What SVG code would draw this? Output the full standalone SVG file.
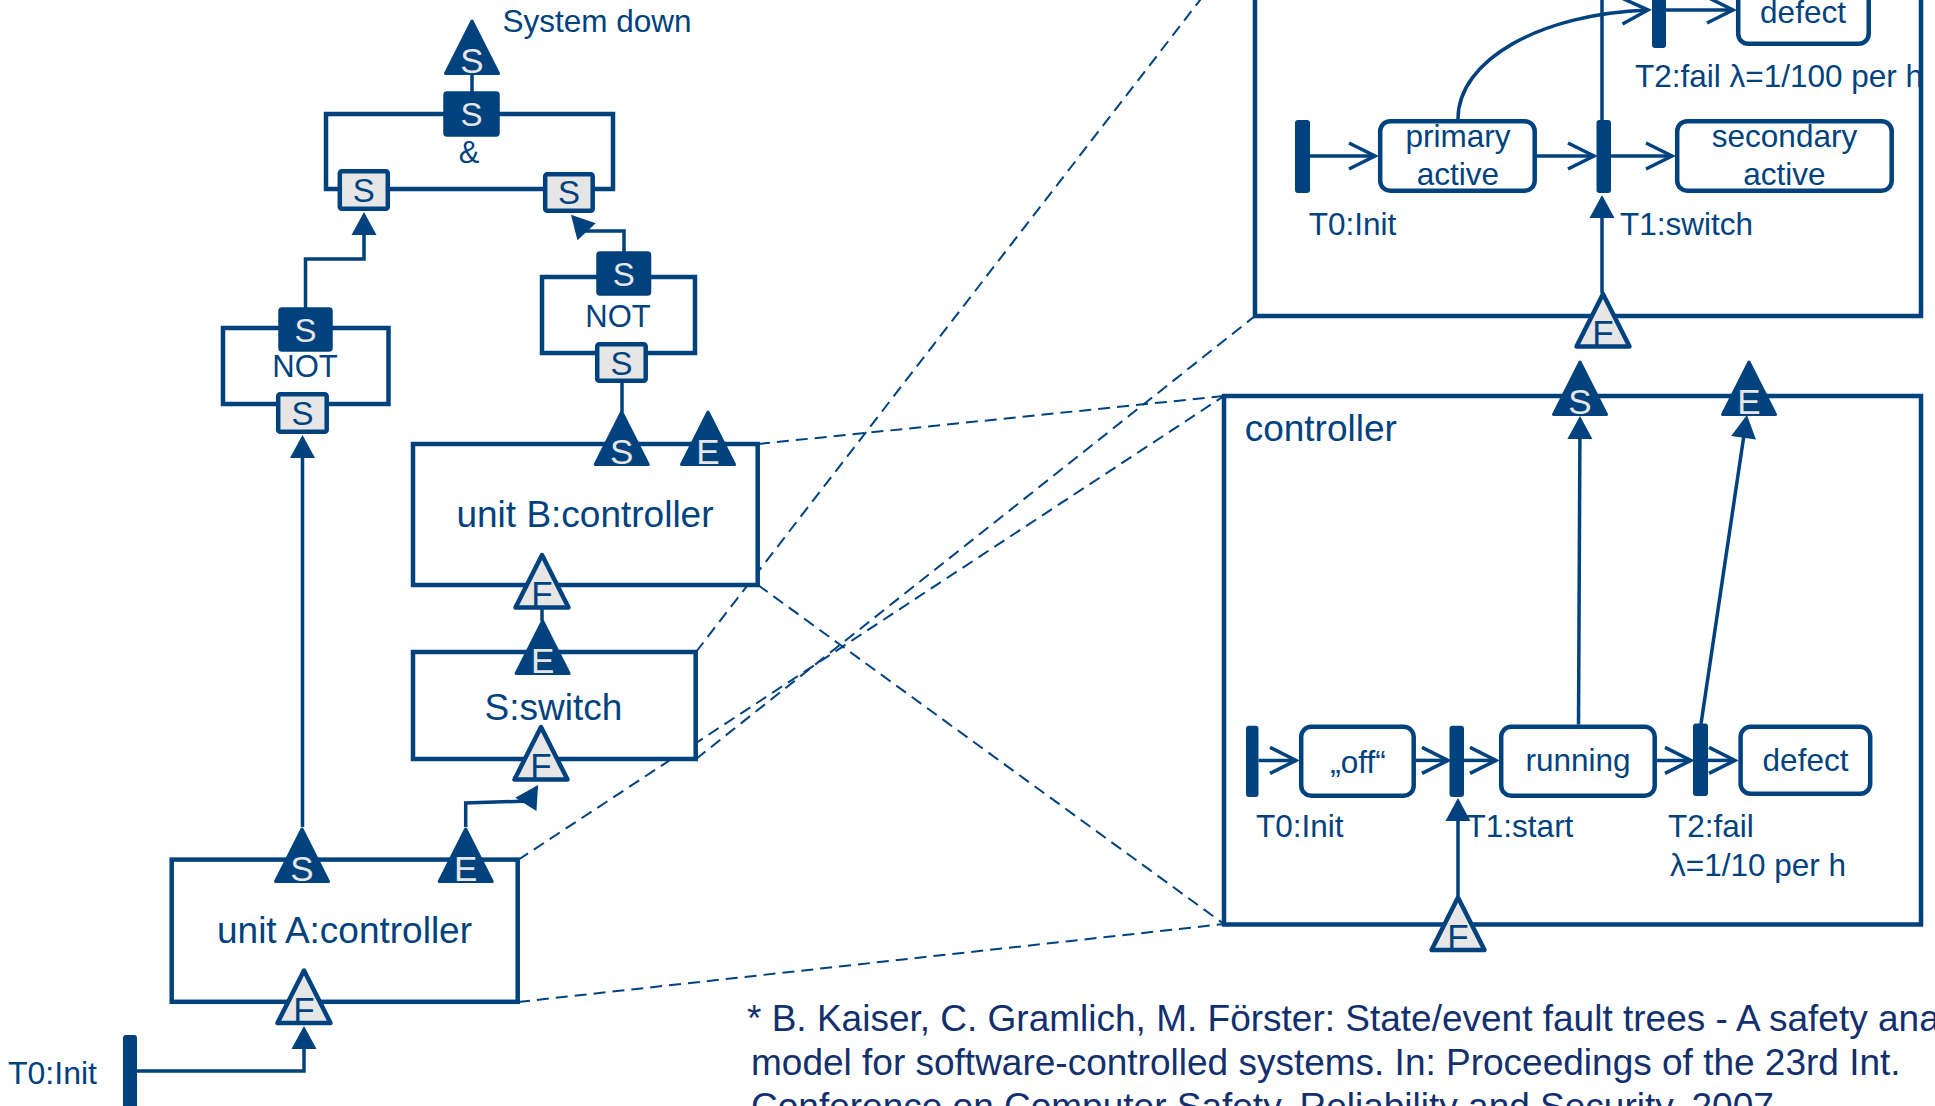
<svg xmlns="http://www.w3.org/2000/svg" width="1935" height="1106" viewBox="0 0 1935 1106">
<style>
.ol{fill:none;stroke:#00427e;stroke-width:4.5}
.box{fill:#fff;stroke:#00427e;stroke-width:4.5}
.st{fill:#fff;stroke:#00427e;stroke-width:4.5}
.sd{fill:#00427e;stroke:#00427e;stroke-width:1.5;stroke-linejoin:round}
.sl{fill:#e6e6e6;stroke:#00427e;stroke-width:4.5}
.td{fill:#00427e;stroke:#00427e;stroke-width:3;stroke-linejoin:round}
.tl{fill:#e6e6e6;stroke:#00427e;stroke-width:4.5;stroke-linejoin:round}
.bar{fill:#00427e}
.ln{fill:none;stroke:#00427e;stroke-width:3.5}
.dash{fill:none;stroke:#00427e;stroke-width:2;stroke-dasharray:12 7}
text{font-family:"Liberation Sans",Arial,sans-serif;fill:#00427e}
.c{text-anchor:middle}
.lt{fill:#e6e6e6}
.pt{font-size:35px}
.gs{font-size:33px}
.gt{font-size:31px}
.big{font-size:37px}
.lab{font-size:31.5px}
.fn{font-size:37px;fill:#12306e}
</style>
<defs>
<path id="tri" d="M0,-54 L-26.5,-1.5 L26.5,-1.5 Z"/>
<marker id="ah" markerUnits="userSpaceOnUse" viewBox="-22 -14 27 28" markerWidth="27" markerHeight="28" refX="0" refY="0" orient="auto">
<path d="M3,0 L-20,-12.5 L-20,12.5 Z" fill="#00427e"/>
</marker>
<marker id="oa" markerUnits="userSpaceOnUse" viewBox="-30 -16 37 32" markerWidth="37" markerHeight="32" refX="0" refY="0" orient="auto">
<path d="M-26,-13 L0,0 L-26,13" fill="none" stroke="#00427e" stroke-width="3.5"/>
</marker>
</defs>

<g id="zoom-lines">
<line class="dash" x1="696" y1="652" x2="1255" y2="-71"/>
<line class="dash" x1="696" y1="759" x2="1255" y2="316"/>
<line class="dash" x1="758" y1="444" x2="1224" y2="396"/>
<line class="dash" x1="758" y1="585" x2="1224" y2="924"/>
<line class="dash" x1="518" y1="860" x2="1224" y2="396"/>
<line class="dash" x1="518" y1="1002" x2="1224" y2="924"/>
</g>

<g id="and-gate">
<rect class="ol" x="326" y="114" width="287" height="75"/>
<text class="c gt" x="469" y="163">&amp;</text>
</g>
<g id="not-left">
<rect class="ol" x="223" y="328" width="165.5" height="76"/>
<text class="c gt" x="305" y="377">NOT</text>
</g>
<g id="not-right">
<rect class="ol" x="542" y="277" width="153" height="76"/>
<text class="c gt" x="618" y="327">NOT</text>
</g>
<g id="unitB">
<rect class="box" x="413" y="444" width="344.7" height="141"/>
<text class="c big" x="585" y="527">unit B:controller</text>
</g>
<g id="switch">
<rect class="box" x="413" y="652" width="282.7" height="107"/>
<text class="c big" x="553.5" y="720">S:switch</text>
</g>
<g id="unitA">
<rect class="box" x="171.7" y="859.6" width="346" height="142.2"/>
<text class="c big" x="344.5" y="943">unit A:controller</text>
</g>
<g id="switch-detail">
<rect class="box" x="1255" y="-71" width="666" height="387"/>
</g>
<g id="controller-detail">
<rect class="box" x="1224" y="396" width="697" height="528.5"/>
<text class="big" x="1244.7" y="441">controller</text>
</g>

<g id="connectors">
<path class="ln" d="M472,75 V92"/>
<path class="ln" d="M305.5,308 V259 H364 V215" marker-end="url(#ah)"/>
<path class="ln" d="M624,252 V231 H586 L573,217" marker-end="url(#ah)"/>
<path class="ln" d="M622,383 V412"/>
<path class="ln" d="M542,607 V621"/>
<path class="ln" d="M302.5,827 V438" marker-end="url(#ah)"/>
<path class="ln" d="M465.7,827 V803 L528,801 L536.5,787.5" marker-end="url(#ah)"/>
<path class="ln" d="M137,1071 H304 V1029" marker-end="url(#ah)"/>
<path class="ln" d="M1310,156 H1375" marker-end="url(#oa)"/>
<path class="ln" d="M1537,156 H1594" marker-end="url(#oa)"/>
<path class="ln" d="M1611,156 H1672" marker-end="url(#oa)"/>
<path class="ln" d="M1458,119 C1458,60 1540,14 1648,10" marker-end="url(#oa)"/>
<path class="ln" d="M1666,10 H1733" marker-end="url(#oa)"/>
<path class="ln" d="M1602,293 V198" marker-end="url(#ah)"/>
<path class="ln" d="M1602,120 V-10"/>
<path class="ln" d="M1258.5,760.4 H1296" marker-end="url(#oa)"/>
<path class="ln" d="M1416,760.4 H1448" marker-end="url(#oa)"/>
<path class="ln" d="M1464,760.4 H1496" marker-end="url(#oa)"/>
<path class="ln" d="M1657,760.4 H1691" marker-end="url(#oa)"/>
<path class="ln" d="M1708,760.4 H1735" marker-end="url(#oa)"/>
<path class="ln" d="M1458,898 V801" marker-end="url(#ah)"/>
<path class="ln" d="M1578.5,724.6 L1580,419" marker-end="url(#ah)"/>
<path class="ln" d="M1701,724 L1746.5,418" marker-end="url(#ah)"/>
</g>

<g id="and-out"><rect class="sd" x="444" y="92" width="55" height="44" rx="3"/><text class="c gs lt" x="471.5" y="126">S</text></g>
<g id="and-in1"><rect class="sl" x="339.8" y="171.2" width="48" height="37.5" rx="2"/><text class="c gs" x="363.8" y="202">S</text></g>
<g id="and-in2"><rect class="sl" x="545.2" y="174.2" width="47.5" height="36.5" rx="2"/><text class="c gs" x="569" y="204">S</text></g>
<g id="notL-out"><rect class="sd" x="279" y="308" width="53" height="43" rx="3"/><text class="c gs lt" x="305.5" y="341.5">S</text></g>
<g id="notL-in"><rect class="sl" x="278.2" y="394.2" width="48.5" height="37.5" rx="2"/><text class="c gs" x="302.5" y="425">S</text></g>
<g id="notR-out"><rect class="sd" x="597" y="252" width="53.5" height="43" rx="3"/><text class="c gs lt" x="623.7" y="285.5">S</text></g>
<g id="notR-in"><rect class="sl" x="597.2" y="344.2" width="48.5" height="36.5" rx="2"/><text class="c gs" x="621.5" y="374.5">S</text></g>

<g id="top-event" transform="translate(472,75)"><use href="#tri" class="td"/><text class="c pt lt" y="-2">S</text></g>
<g id="system-down"><text class="lab" x="502.5" y="32">System down</text></g>
<g id="B-S" transform="translate(621.7,466)"><use href="#tri" class="td"/><text class="c pt lt" y="-2">S</text></g>
<g id="B-E" transform="translate(708,466)"><use href="#tri" class="td"/><text class="c pt lt" y="-2">E</text></g>
<g id="B-F" transform="translate(542,609)"><use href="#tri" class="tl"/><text class="c pt" y="-3">F</text></g>
<g id="SW-E" transform="translate(542.6,675)"><use href="#tri" class="td"/><text class="c pt lt" y="-2">E</text></g>
<g id="SW-F" transform="translate(541,781)"><use href="#tri" class="tl"/><text class="c pt" y="-3">F</text></g>
<g id="A-S" transform="translate(302,883)"><use href="#tri" class="td"/><text class="c pt lt" y="-2">S</text></g>
<g id="A-E" transform="translate(465.7,883)"><use href="#tri" class="td"/><text class="c pt lt" y="-2">E</text></g>
<g id="A-F" transform="translate(304,1024.5)"><use href="#tri" class="tl"/><text class="c pt" y="-3">F</text></g>
<g id="SD-F" transform="translate(1603,348)"><use href="#tri" class="tl"/><text class="c pt" y="-3">F</text></g>
<g id="C-S" transform="translate(1580,416)"><use href="#tri" class="td"/><text class="c pt lt" y="-2">S</text></g>
<g id="C-E" transform="translate(1749,416)"><use href="#tri" class="td"/><text class="c pt lt" y="-2">E</text></g>
<g id="C-F" transform="translate(1458,951.5)"><use href="#tri" class="tl"/><text class="c pt" y="-3">F</text></g>

<g id="init-left"><rect class="bar" x="123" y="1035" width="14" height="90" rx="3"/><text x="8" y="1084" font-size="32">T0:Init</text></g>

<g id="sd-T0"><rect class="bar" x="1295" y="120" width="15" height="73" rx="3"/><text class="lab" x="1308.7" y="235">T0:Init</text></g>
<g id="sd-T1"><rect class="bar" x="1596.5" y="120" width="14.5" height="73" rx="3"/><text class="lab" x="1620" y="235">T1:switch</text></g>
<g id="sd-T2"><rect class="bar" x="1652" y="-20" width="14" height="68" rx="3"/><text class="lab" x="1635" y="87">T2:fail λ=1/100 per h</text></g>
<g id="sd-primary"><rect class="st" x="1380.2" y="121.2" width="154.5" height="69.5" rx="10"/><text class="c lab" x="1458" y="147">primary</text><text class="c lab" x="1458" y="185">active</text></g>
<g id="sd-secondary"><rect class="st" x="1677.2" y="121.2" width="214.5" height="69.5" rx="10"/><text class="c lab" x="1784.5" y="147">secondary</text><text class="c lab" x="1784.5" y="185">active</text></g>
<g id="sd-defect"><rect class="st" x="1738.2" y="-30" width="130.5" height="73.8" rx="10"/><text class="c lab" x="1803" y="23">defect</text></g>

<g id="c-T0"><rect class="bar" x="1246" y="725.7" width="12.5" height="71.3" rx="3"/><text class="lab" x="1256" y="837">T0:Init</text></g>
<g id="c-T1"><rect class="bar" x="1449.5" y="725.7" width="14.5" height="71.3" rx="3"/><text class="lab" x="1466.6" y="837">T1:start</text></g>
<g id="c-T2"><rect class="bar" x="1693" y="723.6" width="15" height="72.4" rx="3"/><text class="lab" x="1668" y="837">T2:fail</text><text class="lab" x="1670" y="876.4">λ=1/10 per h</text></g>
<g id="c-off"><rect class="st" x="1301.2" y="726.8" width="112.5" height="68.9" rx="10"/><text class="c lab" x="1358" y="773">„off“</text></g>
<g id="c-running"><rect class="st" x="1501.2" y="726.8" width="153.5" height="68.9" rx="10"/><text class="c lab" x="1578" y="771">running</text></g>
<g id="c-defect"><rect class="st" x="1740.6" y="726.8" width="129.6" height="67" rx="10"/><text class="c lab" x="1805.5" y="771">defect</text></g>

<g id="footnote">
<text class="fn" x="747" y="1031">* B. Kaiser, C. Gramlich, M. Förster: State/event fault trees - A safety ana</text>
<text class="fn" x="751" y="1075">model for software-controlled systems. In: Proceedings of the 23rd Int.</text>
<text class="fn" x="751" y="1119">Conference on Computer Safety, Reliability and Security, 2007</text>
</g>
</svg>
